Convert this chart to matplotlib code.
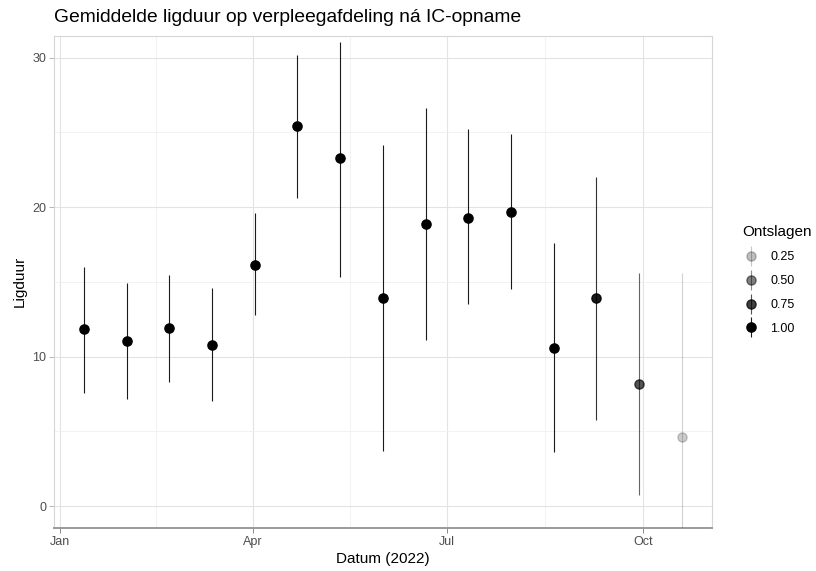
import numpy as np
import pandas as pd
import matplotlib
matplotlib.use("Agg")
import matplotlib.pyplot as plt
import matplotlib.dates as mdates
from matplotlib.container import ErrorbarContainer
from matplotlib.legend_handler import HandlerErrorbar

# data
datum = pd.to_datetime([
    "2022-01-12", "2022-02-01", "2022-02-21", "2022-03-13", "2022-04-02",
    "2022-04-22", "2022-05-12", "2022-06-01", "2022-06-21", "2022-07-11",
    "2022-07-31", "2022-08-20", "2022-09-09", "2022-09-29", "2022-10-19",
])
ligduur = [11.85, 11.07, 11.94, 10.80, 16.15, 25.43, 23.27, 13.94,
           18.90, 19.30, 19.70, 10.58, 13.92, 8.17, 4.64]
ondergrens = [7.58, 7.14, 8.32, 7.03, 12.76, 20.64, 15.35, 3.70,
              11.10, 13.50, 14.50, 3.59, 5.76, 0.74, -6.29]
bovengrens = [16.02, 14.90, 15.46, 14.61, 19.59, 30.19, 31.08, 24.14,
              26.60, 25.20, 24.90, 17.58, 22.00, 15.57, 15.57]
ontslagen = [1.0, 1.0, 1.0, 1.0, 1.0, 1.0, 1.0, 1.0,
             1.0, 1.0, 1.0, 1.0, 0.9, 0.67, 0.2]
legend_breaks = [0.25, 0.50, 0.75, 1.00]

plt.rcParams["font.family"] = ["Liberation Sans", "DejaVu Sans"]

vmin, vmax = min(ontslagen), max(ontslagen)


def to_alpha(v):
    a = 0.2 + 0.8 * (v - vmin) / (vmax - vmin)
    return float(np.clip(a, 0, 1))


fig = plt.figure(figsize=(8.16, 5.71), dpi=100)
ax = fig.add_axes([54 / 816, 1 - 528 / 571, (711.7 - 54) / 816, (528 - 35.7) / 571])

for d, y, lo, hi, v in zip(datum, ligduur, ondergrens, bovengrens, ontslagen):
    ax.errorbar([d], [y], yerr=[[y - lo], [hi - y]], fmt="o", color="black",
                ecolor="#1a1a1a", ms=6.6, elinewidth=0.8, capsize=0,
                alpha=to_alpha(v), zorder=3)

ax.set_ylim(-1.47, 31.47)
ax.margins(x=0.05)
ax.set_yticks([0, 10, 20, 30])
ax.set_yticks([5, 15, 25], minor=True)

ax.xaxis.set_major_locator(mdates.MonthLocator(bymonth=[1, 4, 7, 10]))
ax.xaxis.set_major_formatter(mdates.DateFormatter("%b"))
major = mdates.date2num(pd.to_datetime(["2022-01-01", "2022-04-01", "2022-07-01",
                                        "2022-10-01", "2023-01-01"]))
ax.set_xticks((major[:-1] + major[1:]) / 2, minor=True)

ax.grid(True, which="major", color="#e3e3e3", lw=0.8)
ax.grid(True, which="minor", color="#f0f0f0", lw=0.6)
ax.set_axisbelow(True)
for s in ["left", "top", "right"]:
    ax.spines[s].set_color("#d6d6d6")
    ax.spines[s].set_linewidth(0.8)
ax.spines["bottom"].set_color("#9a9a9a")
ax.spines["bottom"].set_linewidth(1.4)

ax.tick_params(axis="both", which="major", labelsize=9, colors="#4d4d4d",
               length=3.5, width=0.7, pad=2)
ax.tick_params(axis="x", which="major", color="#8a8a8a")
ax.tick_params(axis="y", which="major", color="#b3b3b3")
ax.tick_params(which="minor", length=0)

ax.set_xlabel("Datum (2022)", fontsize=11, labelpad=3)
ax.set_ylabel("Ligduur", fontsize=11, labelpad=4)

fig.text(54 / 816, 1 - 17 / 571, "Gemiddelde ligduur op verpleegafdeling ná IC-opname",
         fontsize=13.9, va="center", ha="left")

# legend with pointrange keys
handles = []
for v in legend_breaks:
    h = ax.errorbar([np.nan], [np.nan], yerr=[[np.nan], [np.nan]], fmt="o",
                    color="black", ecolor="#1a1a1a", ms=6.6, elinewidth=0.8,
                    capsize=0, alpha=to_alpha(v))
    handles.append(h)
labels = ["%.2f" % v for v in legend_breaks]
leg = fig.legend(handles, labels, title="Ontslagen", loc="upper left",
                 bbox_to_anchor=(736 / 816, 1 - 219 / 571), frameon=False,
                 fontsize=9, title_fontsize=11, handlelength=1.4,
                 handletextpad=0.85, labelspacing=0.95, borderpad=0,
                 numpoints=1, alignment="left",
                 handler_map={ErrorbarContainer: HandlerErrorbar(yerr_size=0.8)})

fig.savefig("out.png", dpi=100)
